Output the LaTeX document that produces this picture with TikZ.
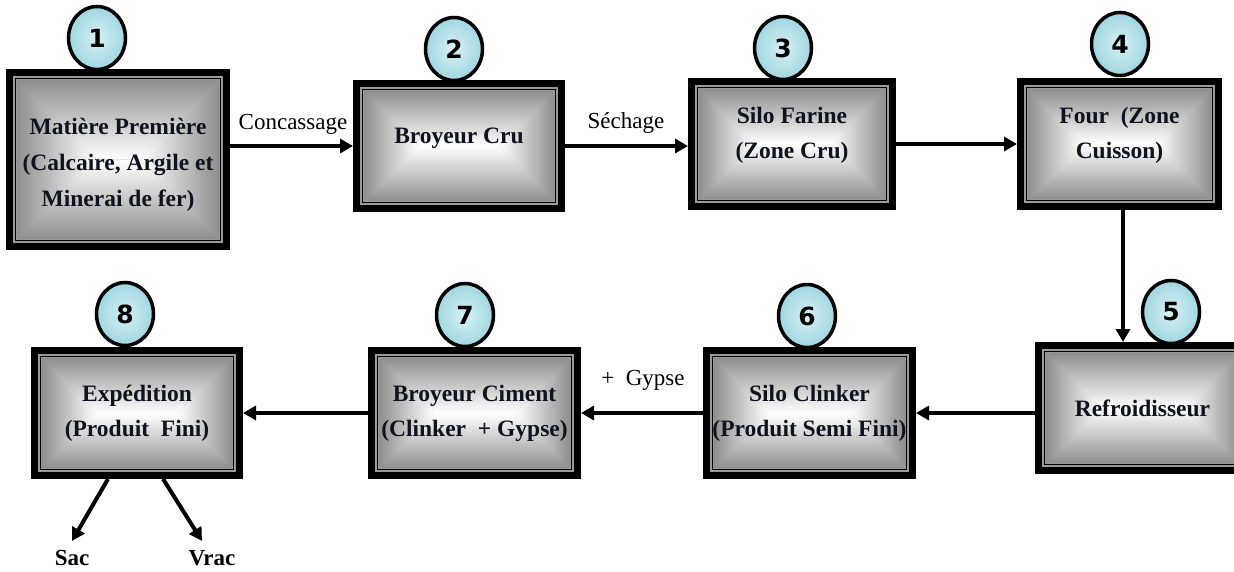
\documentclass[tikz,border=0pt]{standalone}
\usepackage{fontspec}
\setmainfont{Liberation Serif}
\newfontfamily\digitfont{DejaVu Sans}
\usetikzlibrary{shapes.geometric,arrows.meta,calc}

\definecolor{rim}{HTML}{9A9A9A}
\definecolor{edgegray}{HTML}{8F8F8F}
\definecolor{midgray}{HTML}{C6C6C6}
\definecolor{ink}{HTML}{12121F}
\definecolor{bubble}{HTML}{9FD6E1}
\definecolor{bubblelight}{HTML}{D8F1F5}

% Inner layers of a stage box: grey rim, thin black frame and a
% rectangular gradient running from grey edges to a white centre.
\newcommand\stagelayers{%
  \pgfpointanchor{path picture bounding box}{north west}\pgfgetlastxy{\Xl}{\Yt}%
  \pgfpointanchor{path picture bounding box}{south east}\pgfgetlastxy{\Xr}{\Yb}%
  \pgfmathsetmacro\rxa{\Xl+7}\pgfmathsetmacro\rxb{\Xr-7}%
  \pgfmathsetmacro\rya{\Yt-7}\pgfmathsetmacro\ryb{\Yb+7}%
  \fill[rim] (\rxa pt,\rya pt) rectangle (\rxb pt,\ryb pt);
  \pgfmathsetmacro\fxa{\Xl+9.6}\pgfmathsetmacro\fxb{\Xr-9.6}%
  \pgfmathsetmacro\fya{\Yt-9.6}\pgfmathsetmacro\fyb{\Yb+9.6}%
  \draw[black,line width=1.2pt] (\fxa pt,\fya pt) rectangle (\fxb pt,\fyb pt);
  \pgfmathsetmacro\ax{\Xl+11}\pgfmathsetmacro\bx{\Xr-11}%
  \pgfmathsetmacro\ty{\Yt-11}\pgfmathsetmacro\by{\Yb+11}%
  \pgfmathsetmacro\cx{(\ax+\bx)/2}\pgfmathsetmacro\cy{(\ty+\by)/2}%
  \pgfmathsetmacro\dd{max(0,((\bx-\ax)-(\ty-\by))/2)}%
  \pgfmathsetmacro\ee{max(0,((\ty-\by)-(\bx-\ax))/2)}%
  \pgfmathsetmacro\cxl{\cx-\dd}\pgfmathsetmacro\cxr{\cx+\dd}%
  \pgfmathsetmacro\cyt{\cy+\ee}\pgfmathsetmacro\cyb{\cy-\ee}%
  \shade[top color=edgegray,middle color=midgray,bottom color=white]
    (\ax pt,\ty pt) -- (\bx pt,\ty pt) -- (\cxr pt,\cyt pt) -- (\cxl pt,\cyt pt) -- cycle;
  \shade[top color=white,middle color=midgray,bottom color=edgegray]
    (\ax pt,\by pt) -- (\bx pt,\by pt) -- (\cxr pt,\cyb pt) -- (\cxl pt,\cyb pt) -- cycle;
  \shade[left color=edgegray,middle color=midgray,right color=white]
    (\ax pt,\ty pt) -- (\ax pt,\by pt) -- (\cxl pt,\cyb pt) -- (\cxl pt,\cyt pt) -- cycle;
  \shade[left color=white,middle color=midgray,right color=edgegray]
    (\bx pt,\ty pt) -- (\bx pt,\by pt) -- (\cxr pt,\cyb pt) -- (\cxr pt,\cyt pt) -- cycle;
}

\tikzset{
  stage/.style 2 args={rectangle, inner sep=0pt, outer sep=0pt,
    minimum width=#1, minimum height=#2, fill=black, align=center,
    text=ink, font=\bfseries\fontsize{23.5}{35}\selectfont,
    path picture={\stagelayers}},
  lift/.style={text depth=#1},
  drop/.style={text height=#1},
  badge/.style={ellipse, inner sep=0pt, minimum width=57pt, minimum height=63pt,
    draw=black, line width=3.5pt, inner color=bubblelight, outer color=bubble,
    text=black, font=\digitfont\bfseries\fontsize{25}{25}\selectfont},
  flow/.style={line width=4pt, -{Triangle[length=13pt,width=14pt]}},
  steplabel/.style={inner sep=0pt, text=black, font=\fontsize{23}{26}\selectfont},
  endlabel/.style={inner sep=0pt, text=black, font=\bfseries\fontsize{23}{26}\selectfont},
}

\begin{document}
\begin{tikzpicture}[x=1pt,y=-1pt]
\useasboundingbox (0,0) rectangle (1234,572);

% numbered badges
\node[badge] (c1) at (97,38) {1};
\node[badge] (c2) at (454,49) {2};
\node[badge] (c3) at (783,48) {3};
\node[badge] (c4) at (1120,44) {4};
\node[badge] (c5) at (1171,312) {5};
\node[badge] (c6) at (807,316) {6};
\node[badge] (c7) at (465,315) {7};
\node[badge] (c8) at (125,314) {8};

% process stages
\node[stage={224pt}{181pt},drop=100pt,font=\bfseries\fontsize{23.5}{36}\selectfont] (b1) at (118,159.5)
  {Matière Première\\(Calcaire, Argile et\\Minerai de fer)};
\node[stage={212pt}{132pt},lift=20pt] (b2) at (459,146) {Broyeur Cru};
\node[stage={208pt}{132pt},lift=22pt] (b3) at (792,144) {Silo Farine\\(Zone Cru)};
\node[stage={205pt}{132pt},lift=22pt] (b4) at (1119.5,144) {Four\ \ (Zone\\Cuisson)};
\node[stage={215pt}{132pt}] (b5) at (1142.5,408) {Refroidisseur};
\node[stage={213pt}{132pt}] (b6) at (809.5,413) {Silo Clinker\\(Produit Semi Fini)};
\node[stage={213pt}{132pt}] (b7) at (474.5,413) {Broyeur Ciment\\(Clinker\ \ + Gypse)};
\node[stage={212pt}{132pt}] (b8) at (137,413) {Expédition\\(Produit\ \ Fini)};

% step labels
\node[steplabel] (l12) at (293,124) {Concassage};
\node[steplabel] (l23) at (626,123) {Séchage};
\node[steplabel] (l67) at (643,380) {+\ \ Gypse};
\node[endlabel] (sac) at (72,558) {Sac};
\node[endlabel] (vrac) at (212,558) {Vrac};
\coordinate (sacend) at (72,541);
\coordinate (vracend) at (202,541);

% connectors
\draw[flow] (b1.east |- b2.west) -- (b2.west);
\draw[flow] (b2.east) -- (b3.west |- b2.east);
\draw[flow] (b3.east) -- (b4.west);
\draw[flow] ([xshift=3.5pt]b4.south) -- ([xshift=3.5pt]b4.south |- b5.north);
\draw[flow] (b5.west |- b6.east) -- (b6.east);
\draw[flow] (b6.west) -- (b7.east);
\draw[flow] (b7.west) -- (b8.east);
\draw[flow] ($(b8.south west)!0.363!(b8.south east)$) -- (sacend);
\draw[flow] ($(b8.south west)!0.623!(b8.south east)$) -- (vracend);
\end{tikzpicture}
\end{document}
